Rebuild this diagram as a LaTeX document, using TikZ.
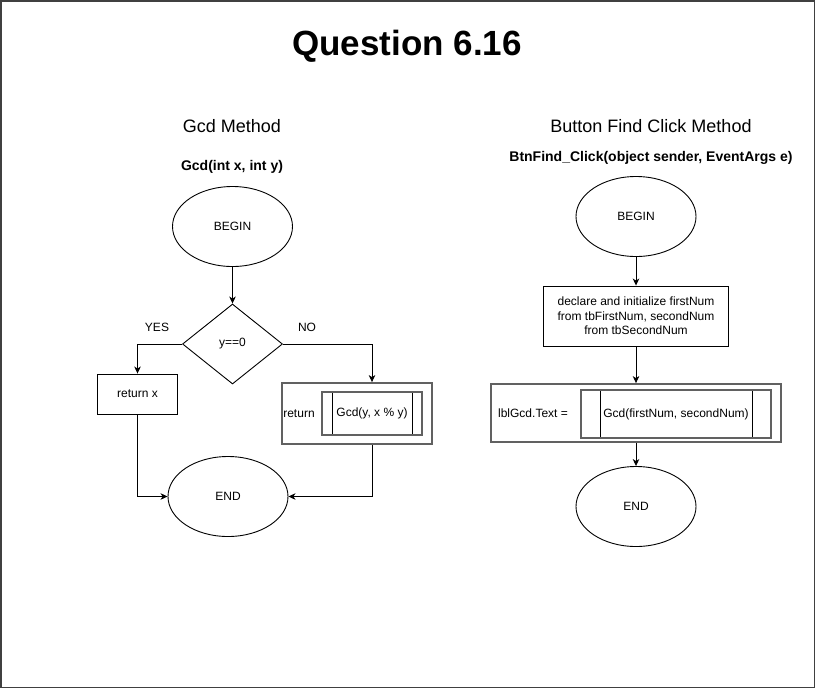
\documentclass[tikz,border=0pt]{standalone}
\usepackage{fontspec}
\setmainfont{Liberation Sans}
\usetikzlibrary{shapes.geometric,arrows.meta}

\begin{document}
\begin{tikzpicture}[x=1pt, y=-1pt,
                    terminal/.style={ellipse, draw=black, line width=0.9pt, minimum width=120pt, minimum height=80pt, inner sep=0pt, font=\fontsize{12}{14}\selectfont},
                    decision/.style={diamond, draw=black, line width=0.9pt, minimum width=100pt, minimum height=80pt, inner sep=0pt, font=\fontsize{12}{14}\selectfont},
                    process/.style={rectangle, draw=black, line width=0.9pt, inner sep=0pt, align=center, font=\fontsize{12}{14.4}\selectfont},
                    callbox/.style={rectangle, draw=black!62, line width=1.8pt, inner sep=0pt},
                    subproc/.style={rectangle, draw=black!62, line width=1.4pt, inner sep=0pt, font=\fontsize{12}{14}\selectfont,
                        path picture={
                            \draw[black, line width=0.9pt] ([xshift=#1]path picture bounding box.north west) -- ([xshift=#1]path picture bounding box.south west);
                            \draw[black, line width=0.9pt] ([xshift=-#1]path picture bounding box.north east) -- ([xshift=-#1]path picture bounding box.south east);}},
                    txt/.style={inner sep=0pt, font=\fontsize{12}{14}\selectfont},
                    heading/.style={inner sep=0pt, font=\fontsize{18}{22}\selectfont},
                    signature/.style={inner sep=0pt, font=\fontsize{14}{17}\selectfont\bfseries},
                    flow/.style={draw, -{Stealth[length=7pt, width=6.5pt, inset=2pt]}, line width=0.9pt},
                    every edge/.style={flow}
                ]

                \useasboundingbox (0,0) rectangle (816,689);
                \draw[black!75, line width=1.5pt] (0.75,0.75) rectangle (814.5,687.5);

                % Titles
                \node[inner sep=0pt, font=\fontsize{35}{40}\selectfont\bfseries] (title) at (407,46) {Question 6.16};
                \node[heading] (gcdhead) at (232,126) {Gcd Method};
                \node[heading] (btnhead) at (651,126) {Button Find Click Method};
                \node[signature] (gcdsig) at (232,167) {Gcd(int x, int y)};
                \node[signature] (btnsig) at (651,158) {BtnFind\_Click(object sender, EventArgs e)};

                % Gcd Method
                \node[terminal] (B1) at (232.5,226.5) {BEGIN};
                \node[decision] (D1) at (232.5,344) {y==0};
                \node[txt] (yes) at (157,327) {YES};
                \node[txt] (no) at (307,327) {NO};
                \node[process, minimum width=80pt, minimum height=40pt] (R1) at (137.5,394) {return x};
                \node[callbox, minimum width=150pt, minimum height=61pt] (C1) at (357,413.5) {};
                \node[txt] (ret) at (299,414) {return};
                \node[subproc=10pt, minimum width=100pt, minimum height=43pt] (G1) at (372,413.5) {Gcd(y, x \% y)};
                \node[terminal] (E1) at (228,496.5) {END};

                \draw (B1) edge (D1);
                \draw[flow] (D1.west) -| (R1.north);
                \draw[flow] (D1.east) -| (C1.north -| G1);
                \draw[flow] (R1.south) |- (E1.west);
                \draw[flow] (C1.south -| G1) |- (E1.east);

                % Button Find Click Method
                \node[terminal] (B2) at (636,216.5) {BEGIN};
                \node[process, minimum width=185pt, minimum height=60pt] (P2) at (636,316) {declare and initialize firstNum\\from tbFirstNum, secondNum\\from tbSecondNum};
                \node[callbox, minimum width=290pt, minimum height=58pt] (C2) at (636,413) {};
                \node[txt] (lbl) at (533,413) {lblGcd.Text =};
                \node[subproc=19pt, minimum width=190pt, minimum height=48pt] (G2) at (676,414) {Gcd(firstNum, secondNum)};
                \node[terminal] (E2) at (636,506.5) {END};

                \draw (B2) edge (P2);
                \draw (P2) edge (C2);
                \draw (C2) edge (E2);
            \end{tikzpicture}
\end{document}
